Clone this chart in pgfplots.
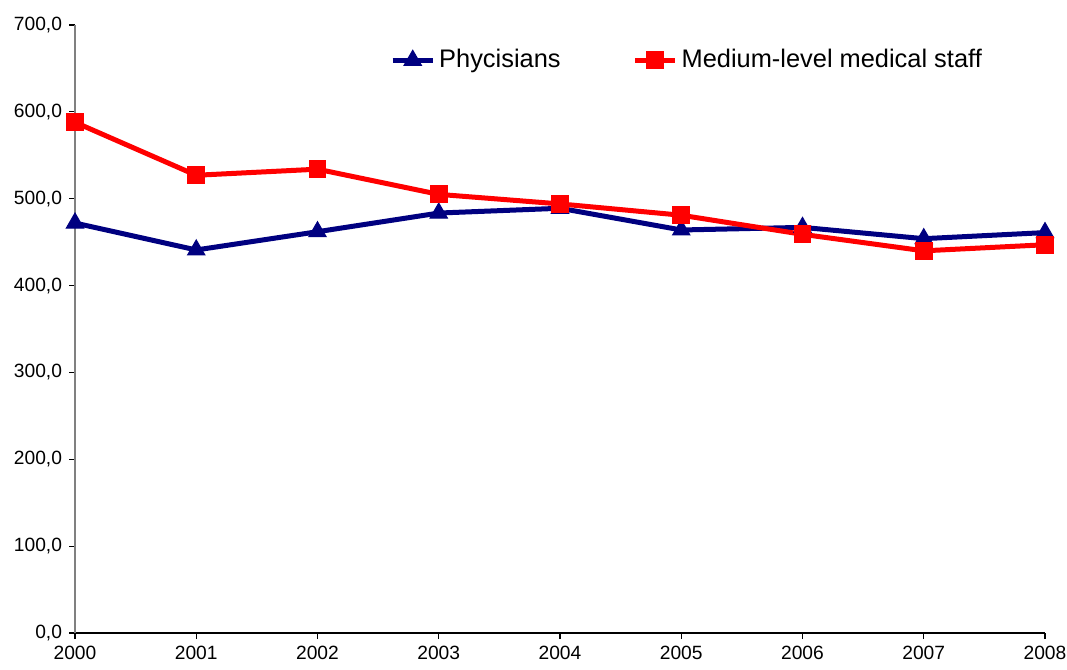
\documentclass[border=0pt]{standalone}
\usepackage{pgfplots}
\pgfplotsset{compat=1.18}
\usepackage{fontspec}
\setmainfont{Liberation Sans}
\definecolor{navyline}{RGB}{0,0,128}
\definecolor{redline}{RGB}{255,0,0}
\begin{document}
\begin{tikzpicture}[x=0.5pt,y=0.5pt]
\begin{axis}[
  scale only axis,
  width=485pt, height=304pt,
  xmin=2000, xmax=2008,
  ymin=0, ymax=700,
  axis x line=bottom, axis y line=left,
  axis line style={-},
  y axis line style={draw=gray, line width=0.9pt},
  x axis line style={draw=black, line width=0.7pt},
  xtick={2000,2001,...,2008},
  ytick={0,100,...,700},
  tick align=outside,
  major tick length=3pt,
  tick style={black, line width=0.6pt},
  xticklabel style={/pgf/number format/1000 sep={}, font=\fontsize{9.6}{11}\selectfont},
  yticklabel style={/pgf/number format/fixed, /pgf/number format/precision=1,
    /pgf/number format/fixed zerofill, /pgf/number format/use comma,
    /pgf/number format/1000 sep={}, font=\fontsize{9.6}{11}\selectfont},
  /pgf/number format/assume math mode=true,
  clip=false,
  legend style={at={(0.632,0.942)}, anchor=center, draw=none, fill=none,
    legend columns=2, font=\fontsize{12.7}{14}\selectfont,
    /tikz/every even column/.append style={column sep=34pt}},
  legend image code/.code={%
    \draw[#1, mark repeat=2, mark phase=2] plot coordinates {(0pt,0pt) (10pt,0pt) (20pt,0pt)};},
]
\addplot[color=navyline, line width=2.5pt, mark=triangle*, mark size=5pt,
  mark options={solid, line width=0.5pt}]
  coordinates {(2000,472) (2001,441) (2002,462) (2003,483.5) (2004,489)
               (2005,464) (2006,467) (2007,454) (2008,461)};
\addplot[color=redline, line width=2.5pt, mark=square*, mark size=4.2pt,
  mark options={solid, line width=0.5pt}]
  coordinates {(2000,588) (2001,527) (2002,534) (2003,505) (2004,494)
               (2005,481) (2006,459) (2007,440) (2008,447)};
\legend{Phycisians, Medium-level medical staff}
\end{axis}
\pgfresetboundingbox
\path[use as bounding box] (-37.5pt,-18.5pt) rectangle (496pt,316.5pt);
\end{tikzpicture}
\end{document}
